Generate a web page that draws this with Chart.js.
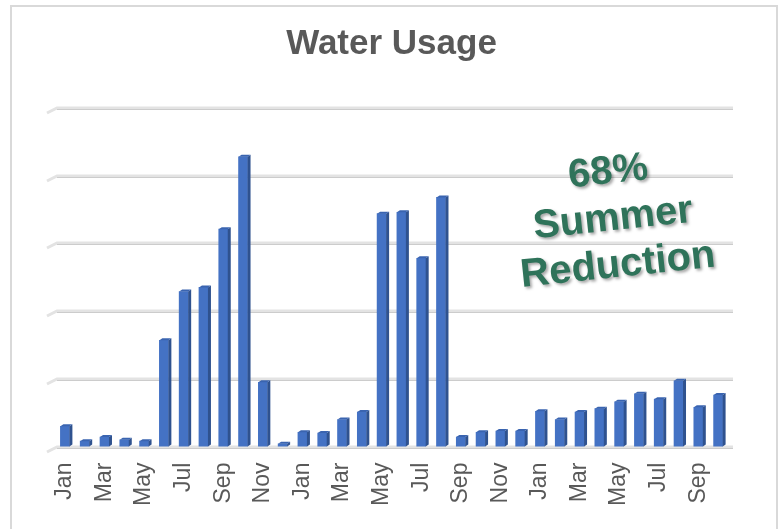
<!DOCTYPE html>
<html>
<head>
<meta charset="utf-8">
<script src="https://cdn.jsdelivr.net/npm/chart.js@4"></script>
<style>
  html, body { margin: 0; padding: 0; background: #fff; }
  #wrap { position: relative; width: 781px; height: 529px; }
</style>
</head>
<body>
<div id="wrap"><canvas id="waterChart" width="781" height="529"></canvas></div>
<script>
const months = ['Jan', 'Feb', 'Mar', 'Apr', 'May', 'Jun', 'Jul', 'Aug', 'Sep', 'Oct', 'Nov', 'Dec'];
// three years of monthly readings, last year runs to October
const categories = [].concat(months, months, months.slice(0, 10));
const usage = [
  3.0, 0.8, 1.4, 1.0, 0.8, 15.7, 22.9, 23.5, 32.1, 42.8, 9.5, 0.4,
  2.1, 2.0, 4.0, 5.1, 34.4, 34.6, 27.8, 36.8, 1.4, 2.1, 2.3, 2.3,
  5.2, 4.0, 5.1, 5.6, 6.6, 7.8, 7.0, 9.7, 5.8, 7.6
];
const gridTicks = [0, 10, 20, 30, 40, 50];
const noteLines = ['68%', 'Summer', 'Reduction'];

// frame, back-wall grid, 3d column sides and the green note
const decor = {
  id: 'decor',
  beforeDraw(chart) {
    const c = chart.ctx;
    c.save();
    c.strokeStyle = '#d9d9d9';
    c.lineWidth = 2;
    c.beginPath();
    c.moveTo(11, 540);
    c.lineTo(11, 6);
    c.lineTo(777, 6);
    c.lineTo(777, 540);
    c.stroke();
    c.restore();
  },
  beforeDatasetsDraw(chart) {
    const c = chart.ctx;
    const y = chart.scales.y;
    const a = chart.chartArea;
    c.save();
    gridTicks.forEach(v => {
      const py = Math.round(y.getPixelForValue(v));
      c.strokeStyle = '#e3e3e3';
      c.lineWidth = 3;
      c.beginPath();
      c.moveTo(a.left - 8, py + 5);
      c.lineTo(a.left + 2, py);
      c.lineTo(a.right + 5, py);
      c.stroke();
      c.strokeStyle = '#cccccc';
      c.lineWidth = 1;
      c.beginPath();
      c.moveTo(a.left + 2, py + 1.5);
      c.lineTo(a.right + 5, py + 1.5);
      c.stroke();
    });
    c.restore();
  },
  afterDatasetsDraw(chart) {
    const c = chart.ctx;
    c.save();
    chart.getDatasetMeta(0).data.forEach(bar => {
      const r = bar.x + bar.width / 2;
      const l = bar.x - bar.width / 2;
      c.fillStyle = '#2f528f';
      c.beginPath();
      c.moveTo(r, bar.y);
      c.lineTo(r + 3, bar.y - 2);
      c.lineTo(r + 3, bar.base - 2);
      c.lineTo(r, bar.base);
      c.closePath();
      c.fill();
      c.fillStyle = '#3a64b0';
      c.beginPath();
      c.moveTo(l, bar.y);
      c.lineTo(l + 3, bar.y - 2);
      c.lineTo(r + 3, bar.y - 2);
      c.lineTo(r, bar.y);
      c.closePath();
      c.fill();
    });
    c.restore();
  },
  afterDraw(chart) {
    const c = chart.ctx;
    c.save();
    c.translate(613, 219);
    c.rotate(-6 * Math.PI / 180);
    c.font = 'bold 40px "Liberation Sans", Arial, sans-serif';
    c.textAlign = 'center';
    c.textBaseline = 'middle';
    c.fillStyle = '#2f735a';
    c.shadowColor = 'rgba(0,0,0,0.35)';
    c.shadowBlur = 3;
    c.shadowOffsetX = 2;
    c.shadowOffsetY = 2;
    noteLines.forEach((t, i) => c.fillText(t, 0, (i - 1) * 47));
    c.restore();
  }
};

new Chart(document.getElementById('waterChart'), {
  type: 'bar',
  data: {
    labels: categories,
    datasets: [{
      label: 'Water Usage',
      data: usage,
      backgroundColor: '#4472c4',
      barThickness: 9
    }]
  },
  options: {
    responsive: false,
    animation: false,
    layout: { padding: { left: 55, right: 53, top: 0, bottom: 7 } },
    plugins: {
      legend: { display: false },
      tooltip: { enabled: false },
      title: {
        display: true,
        text: 'Water Usage',
        color: '#595959',
        font: { family: '"Liberation Sans", Arial, sans-serif', size: 35, weight: 'bold' },
        padding: { top: 23, bottom: 43 }
      }
    },
    scales: {
      x: {
        grid: { display: false, drawTicks: false },
        border: { display: false },
        ticks: {
          autoSkip: false,
          minRotation: 90,
          maxRotation: 90,
          padding: 16,
          color: '#595959',
          font: { family: '"Liberation Sans", Arial, sans-serif', size: 23 },
          callback: function(value, index) {
            return index % 2 === 0 ? categories[index] : '';
          }
        }
      },
      y: {
        min: 0,
        max: 50,
        ticks: { display: false, stepSize: 10 },
        grid: { display: false, drawTicks: false },
        border: { display: false }
      }
    }
  },
  plugins: [decor]
});
</script>
</body>
</html>
